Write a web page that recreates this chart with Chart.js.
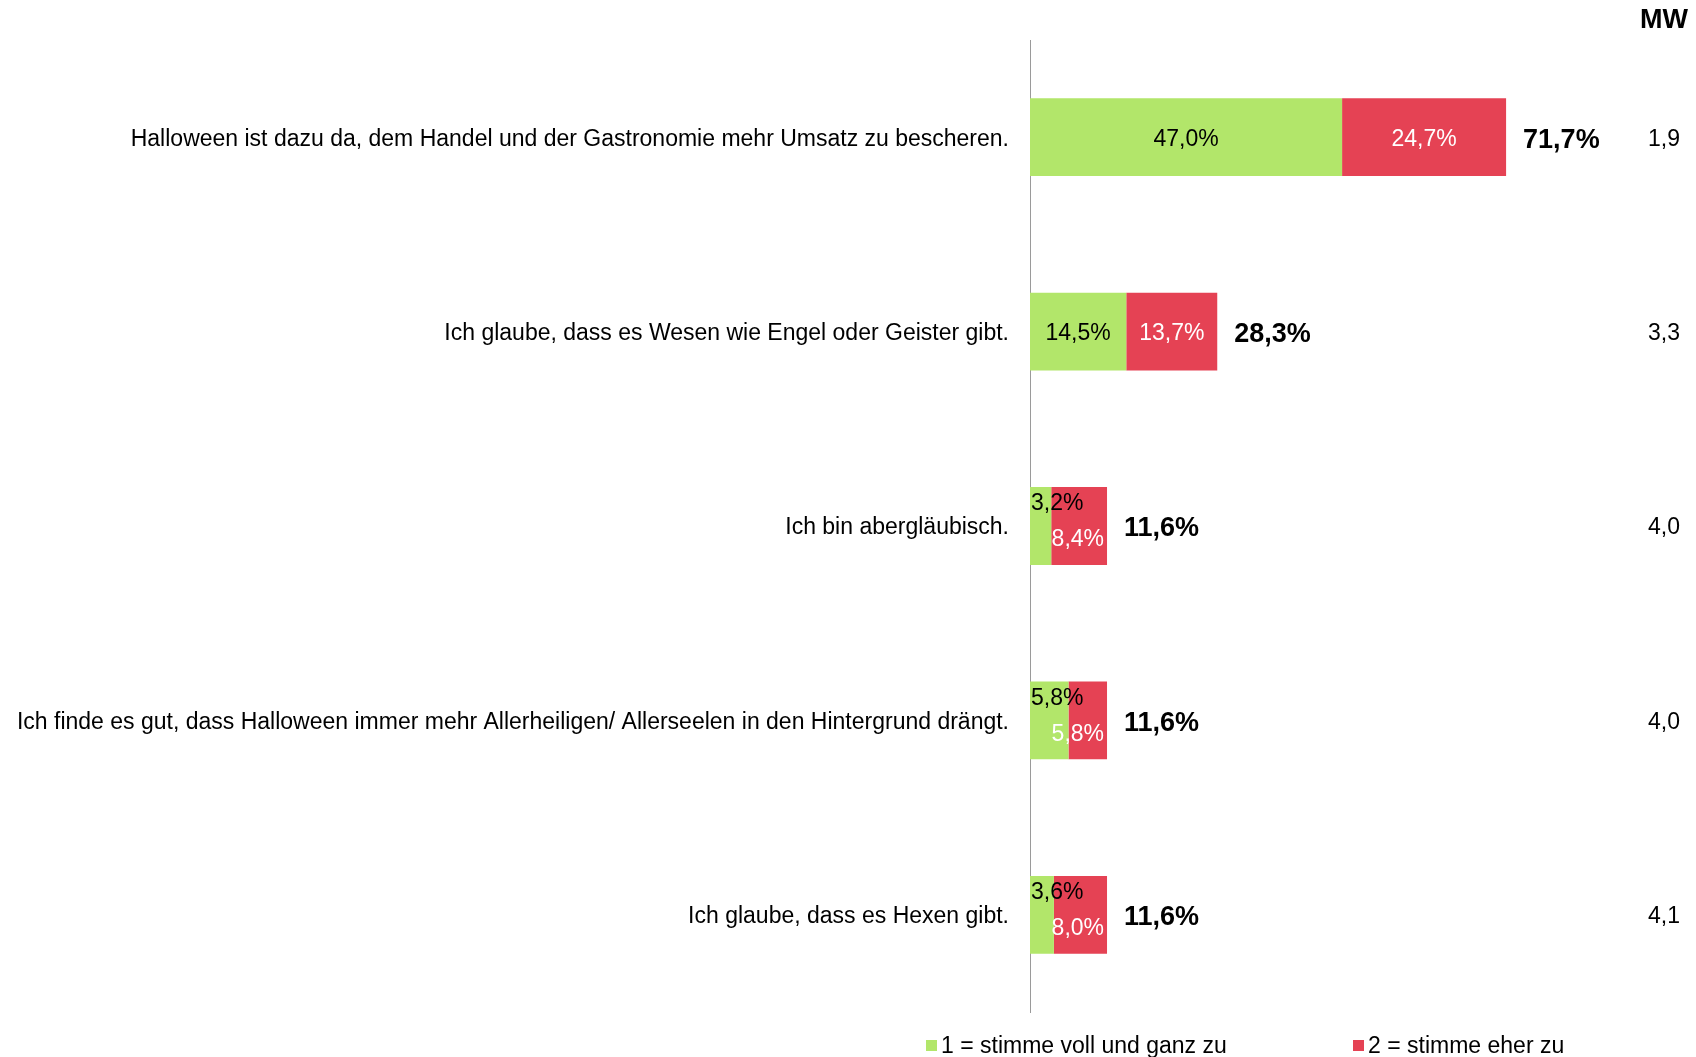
<!DOCTYPE html>
<html>
<head>
<meta charset="utf-8">
<script src="https://cdn.jsdelivr.net/npm/chart.js@4"></script>
<style>
html,body{margin:0;padding:0;background:#fff;}
#c{display:block;}
</style>
</head>
<body>
<canvas id="c" width="1696" height="1057"></canvas>
<script>
const categories = [
  "Halloween ist dazu da, dem Handel und der Gastronomie mehr Umsatz zu bescheren.",
  "Ich glaube, dass es Wesen wie Engel oder Geister gibt.",
  "Ich bin abergläubisch.",
  "Ich finde es gut, dass Halloween immer mehr Allerheiligen/ Allerseelen in den Hintergrund drängt.",
  "Ich glaube, dass es Hexen gibt."
];
const seriesNames = ["1 = stimme voll und ganz zu", "2 = stimme eher zu"];
const stronglyAgree = [47.0, 14.5, 3.2, 5.8, 3.6];
const ratherAgree = [24.7, 13.7, 8.4, 5.8, 8.0];
const totals = [71.7, 28.3, 11.6, 11.6, 11.6];
const meanValues = [1.9, 3.3, 4.0, 4.0, 4.1];
const meanHeader = "MW";

const GREEN = '#b2e66a';
const RED = '#e54254';
const FONT = "'Liberation Sans', Arial, sans-serif";

function fmt(v, d) { return v.toFixed(d).replace('.', ','); }

const labelPlugin = {
  id: 'labels',
  afterDatasetsDraw(chart) {
    const ctx = chart.ctx;
    ctx.save();
    ctx.textBaseline = 'middle';
    const m0 = chart.getDatasetMeta(0), m1 = chart.getDatasetMeta(1);
    for (let i = 0; i < categories.length; i++) {
      ctx.font = '23px ' + FONT;
      const g = m0.data[i], r = m1.data[i];
      const gw = g.x - g.base, rw = r.x - r.base;
      const gt = fmt(stronglyAgree[i], 1) + '%';
      const rt = fmt(ratherAgree[i], 1) + '%';
      const narrow = ctx.measureText(gt).width > gw - 4 || ctx.measureText(rt).width > rw - 4;
      if (!narrow) {
        ctx.textAlign = 'center';
        ctx.fillStyle = '#000';
        ctx.fillText(gt, (g.x + g.base) / 2, g.y + 2);
        ctx.fillStyle = '#fff';
        ctx.fillText(rt, (r.x + r.base) / 2, r.y + 2);
      } else {
        ctx.textAlign = 'left';
        ctx.fillStyle = '#000';
        ctx.fillText(gt, g.base + 1, g.y - 22);
        ctx.textAlign = 'right';
        ctx.fillStyle = '#fff';
        ctx.fillText(rt, r.x - 3, r.y + 14);
      }
      // totals
      ctx.textAlign = 'left';
      ctx.fillStyle = '#000';
      ctx.font = 'bold 27px ' + FONT;
      ctx.fillText(fmt(totals[i], 1) + '%', r.x + 17, r.y + 3);
      // mean values
      ctx.font = '23px ' + FONT;
      ctx.textAlign = 'center';
      ctx.fillText(fmt(meanValues[i], 1), 1664, r.y + 2);
    }
    ctx.font = 'bold 27px ' + FONT;
    ctx.textAlign = 'center';
    ctx.fillStyle = '#000';
    ctx.fillText(meanHeader, 1664, 21);
    // legend
    ctx.font = '23px ' + FONT;
    ctx.textAlign = 'left';
    const legendX = [926, 1353];
    const ly = 1045;
    chart.data.datasets.forEach((ds, k) => {
      ctx.fillStyle = ds.backgroundColor;
      ctx.fillRect(legendX[k], ly - 5, 11, 11);
      ctx.fillStyle = '#000';
      ctx.fillText(ds.label, legendX[k] + 15, ly + 2);
    });
    ctx.restore();
  }
};

new Chart(document.getElementById('c'), {
  type: 'bar',
  data: {
    labels: categories,
    datasets: [
      { label: seriesNames[0], data: stronglyAgree, backgroundColor: GREEN, borderWidth: 0 },
      { label: seriesNames[1], data: ratherAgree, backgroundColor: RED, borderWidth: 0 }
    ]
  },
  options: {
    indexAxis: 'y',
    responsive: false,
    animation: false,
    devicePixelRatio: 1,
    layout: { padding: { top: 40, bottom: 45, right: 2, left: 0 } },
    datasets: { bar: { categoryPercentage: 0.4, barPercentage: 1 } },
    plugins: { legend: { display: false }, tooltip: { enabled: false } },
    scales: {
      x: { stacked: true, min: 0, max: 100, display: false },
      y: {
        stacked: true,
        grid: { display: false, drawTicks: false },
        border: { display: true, color: '#9a9a9a', width: 1 },
        ticks: { color: '#000', padding: 21, labelOffset: 2, font: { family: FONT, size: 23 } },
        afterFit(scale) { scale.width = 1030; }
      }
    }
  },
  plugins: [labelPlugin]
});
</script>
</body>
</html>
